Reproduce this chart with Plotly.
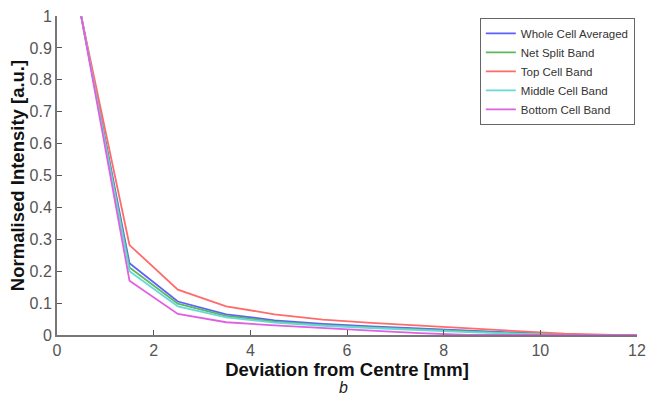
import plotly.graph_objects as go

x_mm = [0.5, 1.5, 2.5, 3.5, 4.5, 5.5, 6.5, 7.5, 8.5, 9.5, 10.5, 11.5, 12.5]
whole_cell = [1.0, 0.225, 0.105, 0.065, 0.046, 0.035, 0.027, 0.020, 0.013, 0.006, 0.001, 0.0, 0.0]
net_split = [1.0, 0.212, 0.098, 0.060, 0.042, 0.031, 0.024, 0.017, 0.011, 0.005, 0.001, 0.0, 0.0]
top_cell = [1.0, 0.282, 0.142, 0.090, 0.065, 0.048, 0.038, 0.030, 0.021, 0.012, 0.004, 0.0, 0.0]
middle_cell = [1.0, 0.200, 0.090, 0.055, 0.039, 0.029, 0.022, 0.015, 0.009, 0.004, 0.0, 0.0, 0.0]
bottom_cell = [1.0, 0.170, 0.066, 0.040, 0.030, 0.021, 0.014, 0.006, 0.0, 0.0, 0.0, 0.0, 0.0]

series = [
    ("Whole Cell Averaged", whole_cell, "#5f5fff"),
    ("Net Split Band", net_split, "#5cb85c"),
    ("Top Cell Band", top_cell, "#ff6b6b"),
    ("Middle Cell Band", middle_cell, "#66d9d9"),
    ("Bottom Cell Band", bottom_cell, "#e060e0"),
]

x_ticks = [0, 2, 4, 6, 8, 10, 12]
y_ticks = [0, 0.1, 0.2, 0.3, 0.4, 0.5, 0.6, 0.7, 0.8, 0.9, 1]

fig = go.Figure()
for name, vals, col in series:
    fig.add_trace(go.Scatter(x=x_mm, y=vals, mode="lines", name=name,
                             line=dict(color=col, width=1.8)))

fig.update_layout(
    width=646, height=398,
    margin=dict(l=57, r=9, t=16, b=63, autoexpand=False),
    paper_bgcolor="white", plot_bgcolor="white",
    font=dict(family="Arial, Liberation Sans, sans-serif", color="#555"),
    legend=dict(x=0.729, y=0.994, xanchor="left", yanchor="top",
                bgcolor="white", bordercolor="#666", borderwidth=1,
                font=dict(size=11.5, color="#333"), tracegroupgap=0,
                itemwidth=30),
    showlegend=True,
)
fig.update_xaxes(range=[0, 12], tickvals=x_ticks, ticktext=[str(v) for v in x_ticks],
                 ticks="inside", ticklen=5, tickcolor="#555", automargin=False,
                 showline=True, linecolor="#777", linewidth=2, showgrid=False, zeroline=False,
                 tickfont=dict(size=16, color="#555"),
                 title=dict(text="<b>Deviation from Centre [mm]</b>", font=dict(size=18.5, color="#111"),
                            standoff=0))
fig.update_yaxes(range=[0, 1], tickvals=y_ticks, ticktext=["0", "0.1", "0.2", "0.3", "0.4", "0.5", "0.6", "0.7", "0.8", "0.9", "1"],
                 ticks="inside", ticklen=5, tickcolor="#555", automargin=False,
                 showline=True, linecolor="#777", linewidth=2, showgrid=False, zeroline=False,
                 tickfont=dict(size=16, color="#555"),
                 title=dict(text="<b>Normalised Intensity [a.u.]</b>", font=dict(size=18.5, color="#111"),
                            standoff=0))
fig.add_annotation(text="<i>b</i>", xref="paper", yref="paper", x=0.494, y=-0.166,
                   xanchor="center", yanchor="middle", showarrow=False,
                   font=dict(size=16, color="#222"))

fig.write_html("out.html",
               config={"displayModeBar": False},
               post_script="document.body.style.margin='0';document.body.style.overflow='hidden';")
